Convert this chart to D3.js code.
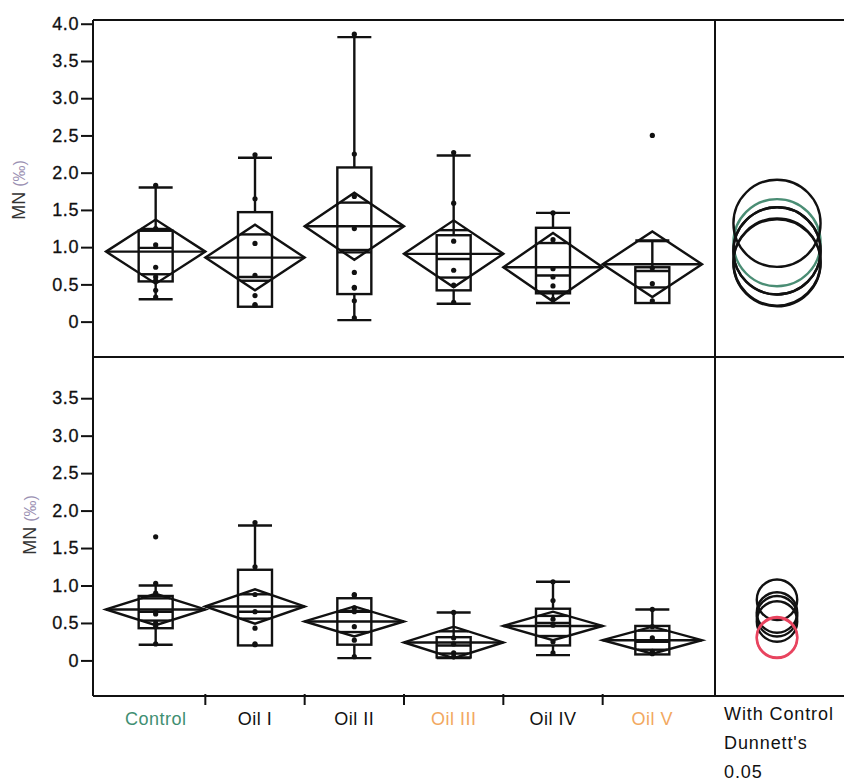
<!DOCTYPE html>
<html>
<head>
<meta charset="utf-8">
<script src="https://cdn.jsdelivr.net/npm/d3@7"></script>
<style>
  body { margin: 0; background: #fff; }
  svg text { font-family: "Liberation Sans", Arial, sans-serif; }
</style>
</head>
<body>
<svg id="chart" width="844" height="784"></svg>
<script>
var categories = ["Control", "Oil I", "Oil II", "Oil III", "Oil IV", "Oil V"];

// top panel
var meanA = [0.94, 0.86, 1.28, 0.91, 0.73, 0.77];
var ciA   = [0.43, 0.44, 0.45, 0.45, 0.46, 0.44];
var q1A   = [0.54, 0.20, 0.37, 0.42, 0.38, 0.25];
var medA  = [0.99, 0.60, 0.93, 0.84, 0.62, 0.68];
var q3A   = [1.22, 1.47, 2.07, 1.16, 1.26, 0.73];
var loA   = [0.30, 0.20, 0.02, 0.24, 0.25, 0.25];
var hiA   = [1.80, 2.20, 3.82, 2.23, 1.46, 1.09];
var pointsA = [
  [1.83, 1.25, 1.03, 0.73, 0.60, 0.55, 0.42, 0.33],
  [2.24, 1.65, 1.05, 0.62, 0.35, 0.23, 0.22],
  [3.86, 2.25, 1.68, 1.25, 0.66, 0.46, 0.45, 0.28, 0.05],
  [2.27, 1.59, 1.08, 0.69, 0.49, 0.26],
  [1.46, 1.10, 0.71, 0.60, 0.48, 0.30],
  [2.50, 0.72, 0.51, 0.28]
];
var circA = [1.06, 0.95, 1.32, 0.95, 0.79, 0.80];
var radA  = [0.585, 0.585, 0.585, 0.585, 0.585, 0.585];

// bottom panel
var meanB = [0.68, 0.72, 0.52, 0.24, 0.46, 0.27];
var ciB   = [0.21, 0.23, 0.20, 0.21, 0.19, 0.18];
var q1B   = [0.43, 0.20, 0.21, 0.04, 0.20, 0.08];
var medB  = [0.65, 0.65, 0.65, 0.20, 0.50, 0.25];
var q3B   = [0.86, 1.21, 0.83, 0.31, 0.69, 0.46];
var loB   = [0.21, 0.20, 0.03, 0.03, 0.07, 0.08];
var hiB   = [1.00, 1.80, 0.83, 0.64, 1.05, 0.68];
var pointsB = [
  [1.65, 1.03, 0.90, 0.65, 0.62, 0.50, 0.45, 0.22],
  [1.84, 1.25, 0.88, 0.65, 0.43, 0.22, 0.21],
  [0.88, 0.87, 0.70, 0.65, 0.45, 0.27, 0.05],
  [0.64, 0.30, 0.22, 0.10, 0.05],
  [1.05, 0.80, 0.55, 0.47, 0.25, 0.10],
  [0.68, 0.45, 0.30, 0.12, 0.09]
];
var circB = [0.64, 0.81, 0.59, 0.30, 0.52, 0.31];
var radB  = [0.27, 0.27, 0.27, 0.27, 0.27, 0.27];

var ticksA = [0, 0.5, 1, 1.5, 2, 2.5, 3, 3.5, 4];
var ticksB = [0, 0.5, 1, 1.5, 2, 2.5, 3, 3.5];
var footLines = ["With Control", "Dunnett's", "0.05"];

(function() {
  var labelColor = { "Control": "#3f8f72", "Oil III": "#f2a860", "Oil V": "#f2a860" };
  var circColA = ["#4a8d74", "#111", "#111", "#111", "#111", "#111"];
  var circColB = ["#111", "#111", "#111", "#e8445f", "#111", "#e8445f"];

  var svg = d3.select("#chart");
  var fLeft = 93, divX = 715, fRight = 850, fTop = 20, fMid = 357, fBottom = 696;

  var x = d3.scaleBand().domain(categories).range([106, 702]).padding(0);
  var bw = x.bandwidth();
  var boxW = 34;
  var circX = 777;
  var sw = 2.4;

  function panel(g, y0, y1, ticks, mean, ci, q1, med, q3, lo, hi, pts, circ, rad, circCol, labelX, labelY) {
    var y = d3.scaleLinear().domain([-0.475, 4.05]).range([y1, y0]);

    var ax = g.append("g").attr("transform", "translate(" + fLeft + ",0)")
      .call(d3.axisLeft(y).tickValues(ticks).tickSize(12).tickPadding(2)
        .tickFormat(function(d) { return d === 0 ? "0" : d3.format(".1f")(d); }));
    ax.select(".domain").remove();
    ax.selectAll("line").attr("stroke", "#111").attr("stroke-width", 2);
    ax.selectAll("text").attr("font-size", 18).attr("letter-spacing", 0.6).attr("fill", "#111")
      .attr("stroke", "#111").attr("stroke-width", 0.3);

    var lab = g.append("text")
      .attr("transform", "translate(" + labelX + "," + labelY + ") rotate(-90)")
      .attr("text-anchor", "middle").attr("font-size", 18).attr("fill", "#333");
    lab.append("tspan").text("MN ");
    lab.append("tspan").attr("fill", "#9a90b2").attr("font-size", 16).text("(‰)");

    var grp = g.selectAll(".grp").data(categories).enter().append("g")
      .attr("class", "grp");

    grp.each(function(c, i) {
      var s = d3.select(this);
      var cx = x(c) + bw / 2;
      var ln = function(x1, y1, x2, y2) {
        s.append("line").attr("x1", x1).attr("y1", y1).attr("x2", x2).attr("y2", y2)
          .attr("stroke", "#111").attr("stroke-width", sw);
      };
      // whiskers + caps
      ln(cx, y(q3[i]), cx, y(hi[i]));
      ln(cx, y(q1[i]), cx, y(lo[i]));
      if (hi[i] > q3[i]) ln(cx - boxW / 2, y(hi[i]), cx + boxW / 2, y(hi[i]));
      if (lo[i] < q1[i]) ln(cx - boxW / 2, y(lo[i]), cx + boxW / 2, y(lo[i]));
      // box
      s.append("rect").attr("x", cx - boxW / 2).attr("y", y(q3[i]))
        .attr("width", boxW).attr("height", y(q1[i]) - y(q3[i]))
        .attr("fill", "none").attr("stroke", "#111").attr("stroke-width", sw);
      ln(cx - boxW / 2, y(med[i]), cx + boxW / 2, y(med[i]));
      // means diamond
      var xl = x(c), xr = x(c) + bw;
      s.append("path")
        .attr("d", d3.line()([[xl, y(mean[i])], [cx, y(mean[i] + ci[i])], [xr, y(mean[i])], [cx, y(mean[i] - ci[i])]]) + "Z")
        .attr("fill", "none").attr("stroke", "#111").attr("stroke-width", sw);
      ln(xl, y(mean[i]), xr, y(mean[i]));
      var ov = ci[i] / Math.SQRT2, hw = bw / 2 * (1 - 1 / Math.SQRT2);
      ln(cx - hw, y(mean[i] + ov), cx + hw, y(mean[i] + ov));
      ln(cx - hw, y(mean[i] - ov), cx + hw, y(mean[i] - ov));
      // points
      s.selectAll("circle").data(pts[i]).enter().append("circle")
        .attr("cx", cx).attr("cy", function(d) { return y(d); })
        .attr("r", 2.6).attr("fill", "#111");
    });

    // comparison circles
    g.selectAll(".cmp").data(categories).enter().append("circle")
      .attr("class", "cmp")
      .attr("cx", circX)
      .attr("cy", function(c, i) { return y(circ[i]); })
      .attr("r", function(c, i) { return y(0) - y(rad[i]); })
      .attr("fill", "none")
      .attr("stroke", function(c, i) { return circCol[i]; })
      .attr("stroke-width", 2.4);
  }

  var gA = svg.append("g");
  panel(gA, fTop, fMid, ticksA, meanA, ciA, q1A, medA, q3A, loA, hiA, pointsA, circA, radA, circColA, 25, 190);
  var gB = svg.append("g");
  panel(gB, fMid, fBottom, ticksB, meanB, ciB, q1B, medB, q3B, loB, hiB, pointsB, circB, radB, circColB, 36, 525);

  // frame
  var frame = svg.append("g").attr("stroke", "#111").attr("stroke-width", 2).attr("fill", "none");
  frame.append("line").attr("x1", fLeft).attr("y1", fTop).attr("x2", fRight).attr("y2", fTop);
  frame.append("line").attr("x1", fLeft).attr("y1", fMid).attr("x2", fRight).attr("y2", fMid);
  frame.append("line").attr("x1", fLeft).attr("y1", fBottom).attr("x2", fRight).attr("y2", fBottom);
  frame.append("line").attr("x1", fLeft).attr("y1", fTop).attr("x2", fLeft).attr("y2", fBottom);
  frame.append("line").attr("x1", divX).attr("y1", fTop).attr("x2", divX).attr("y2", fBottom);

  // x axis
  var xa = svg.append("g").attr("transform", "translate(0," + fBottom + ")");
  xa.selectAll(".tk").data(categories.slice(1)).enter().append("line")
    .attr("x1", function(c) { return x(c); }).attr("x2", function(c) { return x(c); })
    .attr("y1", -2).attr("y2", 9).attr("stroke", "#111").attr("stroke-width", 2);
  xa.selectAll(".lbl").data(categories).enter().append("text")
    .attr("x", function(c) { return x(c) + bw / 2; })
    .attr("y", 29).attr("text-anchor", "middle").attr("font-size", 18)
    .attr("letter-spacing", 0.5)
    .attr("fill", function(c) { return labelColor[c] || "#111"; })
    .text(function(c) { return c; });

  svg.selectAll(".foot").data(footLines).enter().append("text")
    .attr("x", 724).attr("y", function(d, i) { return 720 + i * 29; })
    .attr("font-size", 18).attr("letter-spacing", 0.9).attr("fill", "#111")
    .text(function(d) { return d; });
})();
</script>
</body>
</html>
